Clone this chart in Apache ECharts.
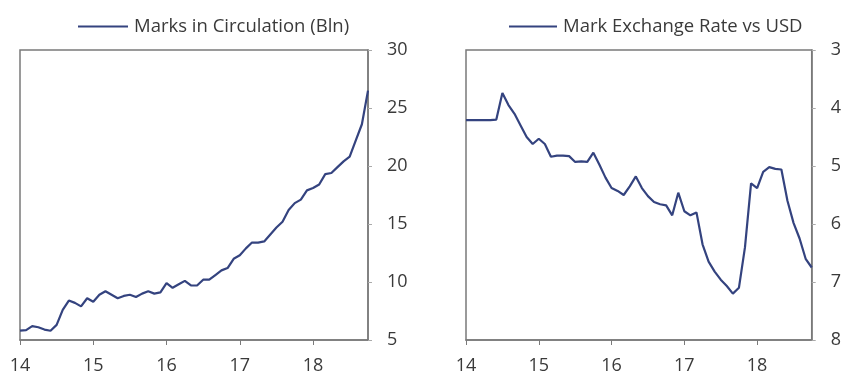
<!DOCTYPE html>
<html><head><meta charset="utf-8">
<script src="https://cdn.jsdelivr.net/npm/echarts@6/dist/echarts.min.js"></script>
<style>html,body{margin:0;padding:0;background:#fff}#c{width:844px;height:377px}</style>
</head><body><div id="c"></div>
<script>
// Month index from Jan 2014 (0) to Oct 2018 (57)
const startYear = 14;
const monthCount = 58;
const xTickLabels = [14, 15, 16, 17, 18];
const circTicks = [5, 10, 15, 20, 25, 30];
const fxTicks = [3, 4, 5, 6, 7, 8];
const marksInCirculation = [
  5.8, 5.85, 6.2, 6.1, 5.9, 5.8, 6.3, 7.6, 8.4, 8.2, 7.9, 8.6,
  8.3, 8.9, 9.2, 8.9, 8.6, 8.8, 8.9, 8.7, 9.0, 9.2, 9.0, 9.1,
  9.9, 9.5, 9.8, 10.1, 9.7, 9.7, 10.2, 10.2, 10.6, 11.0, 11.2, 12.0,
  12.3, 12.9, 13.4, 13.4, 13.5, 14.1, 14.7, 15.2, 16.2, 16.8, 17.1, 17.9,
  18.1, 18.4, 19.3, 19.4, 19.9, 20.4, 20.8, 22.2, 23.6, 26.5
];
const markUsdRate = [
  4.21, 4.21, 4.21, 4.21, 4.21, 4.2, 3.74, 3.95, 4.1, 4.3, 4.5, 4.62,
  4.53, 4.62, 4.84, 4.82, 4.82, 4.83, 4.93, 4.92, 4.93, 4.77, 4.98, 5.2,
  5.38, 5.43, 5.5, 5.35, 5.18, 5.38, 5.52, 5.62, 5.66, 5.68, 5.85, 5.46,
  5.78, 5.85, 5.8, 6.35, 6.65, 6.82, 6.96, 7.07, 7.2, 7.1, 6.4, 5.3,
  5.38, 5.1, 5.02, 5.05, 5.06, 5.6, 5.98, 6.25, 6.6, 6.75
];
const seriesNames = ['Marks in Circulation (Bln)', 'Mark Exchange Rate vs USD'];

const xs = Array.from({length: monthCount}, (_, i) => startYear + i / 12);
const xMax = startYear + (monthCount - 1) / 12;
const lineColor = '#34437f';
const axisColor = '#7a7a7a';
const font = 'Open Sans';
const txt = '#3a3a3a';

function xAxis(gi) {
  return {
    type: 'value', gridIndex: gi, min: startYear, max: xMax,
    axisLine: {show: true, lineStyle: {color: axisColor, width: 1.5}},
    axisTick: {show: true, length: 5, lineStyle: {color: axisColor}, customValues: xTickLabels},
    axisLabel: {color: txt, fontFamily: font, fontSize: 18, margin: 17, customValues: xTickLabels},
    splitLine: {show: false}
  };
}
function yAxis(gi, min, max, inverse, ticks) {
  return {
    type: 'value', gridIndex: gi, position: 'right', min: min, max: max, interval: ticks[1] - ticks[0], inverse: inverse,
    axisLine: {show: true, lineStyle: {color: axisColor, width: 1.5}},
    axisTick: {show: true, length: 4, lineStyle: {color: '#aaa'}},
    axisLabel: {color: txt, fontFamily: font, fontSize: 18, margin: 19},
    splitLine: {show: false}
  };
}
const chart = echarts.init(document.getElementById('c'), null, {renderer: 'canvas'});
chart.setOption({
  animation: false,
  backgroundColor: '#fff',
  grid: [
    {left: 20, top: 50, width: 348, height: 290, show: true, borderColor: axisColor, borderWidth: 1.5},
    {left: 466, top: 50, width: 350, height: 290, show: true, borderColor: axisColor, borderWidth: 1.5}
  ],
  legend: [
    {data: [seriesNames[0]], left: 73, top: 12, icon: 'rect', itemWidth: 50, itemHeight: 2, itemGap: 8,
     textStyle: {color: txt, fontFamily: font, fontSize: 18.5, padding: [0, 0, 0, 1]}},
    {data: [seriesNames[1]], left: 504, top: 12, icon: 'rect', itemWidth: 48, itemHeight: 2, itemGap: 8,
     textStyle: {color: txt, fontFamily: font, fontSize: 18.5, padding: [0, 0, 0, 1]}}
  ],
  xAxis: [xAxis(0), xAxis(1)],
  yAxis: [yAxis(0, 5, 30, false, circTicks), yAxis(1, 3, 8, true, fxTicks)],
  series: [
    {name: seriesNames[0], type: 'line', xAxisIndex: 0, yAxisIndex: 0, showSymbol: false,
     lineStyle: {color: lineColor, width: 2.2}, itemStyle: {color: lineColor},
     data: xs.map((x, i) => [x, marksInCirculation[i]])},
    {name: seriesNames[1], type: 'line', xAxisIndex: 1, yAxisIndex: 1, showSymbol: false,
     lineStyle: {color: lineColor, width: 2.2}, itemStyle: {color: lineColor},
     data: xs.map((x, i) => [x, markUsdRate[i]])}
  ]
});
</script></body></html>
